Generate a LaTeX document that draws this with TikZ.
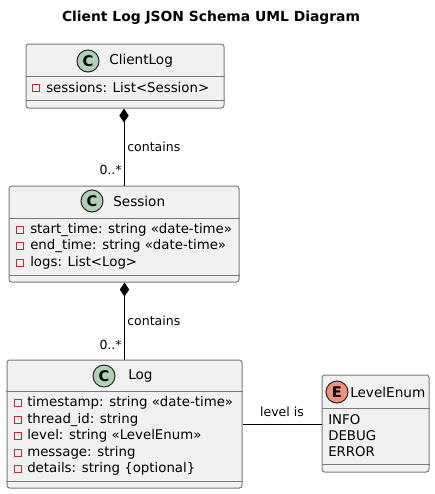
\documentclass[tikz,border=0pt]{standalone}
\usepackage{fontspec}
\setmainfont{DejaVu Sans}
\usepackage{xcolor}
\usepackage{tikz}
\usetikzlibrary{arrows.meta, positioning, calc}

\definecolor{boxfill}{HTML}{F1F1F1}
\definecolor{boxline}{HTML}{7A7A7A}
\definecolor{classgreen}{HTML}{ADD1B2}
\definecolor{enumred}{HTML}{EB937F}
\definecolor{privred}{HTML}{C82930}

\begin{document}
\begin{tikzpicture}[
    x=0.75pt, y=-0.75pt,
    box/.style={draw=boxline,fill=boxfill,line width=0.75pt,rounded corners=2pt,inner sep=0pt},
    divider/.style={draw=boxline,line width=0.75pt},
    badge/.style={circle,draw=black!85,line width=0.75pt,minimum size=16.5pt,inner sep=0pt,font=\fontsize{11}{12}\selectfont\bfseries},
    title/.style={anchor=west,inner sep=0pt,font=\fontsize{10.2}{12}\selectfont},
    attr/.style={anchor=west,inner sep=0pt,font=\fontsize{10}{12}\selectfont},
    priv/.style={draw=privred,line width=0.6pt,minimum size=5pt,inner sep=0pt},
    lbl/.style={inner sep=0pt,font=\fontsize{9.4}{11}\selectfont},
    comp/.style={line width=0.75pt,{Diamond[length=10.5pt,width=7pt]}-}
]
\useasboundingbox (0,0) rectangle (435,494);

% Title
\node[inner sep=0pt,font=\fontsize{10.4}{12}\selectfont\bfseries] (heading) at (211,18) {Client Log JSON Schema UML Diagram};

% Boxes
\node[box,minimum width=148.5pt,minimum height=48pt] (clientlog) at (125,76) {};
\node[box,minimum width=172.5pt,minimum height=72pt] (session) at (124,234) {};
\node[box,minimum width=176.25pt,minimum height=96pt] (log) at (124.5,424) {};
\node[box,minimum width=80.25pt,minimum height=72.75pt] (levelenum) at (375.5,423.5) {};

% Dividers
\draw[divider] (clientlog.west |- 0,76) -- (clientlog.east |- 0,76);
\draw[divider] (clientlog.west |- 0,100) -- (clientlog.east |- 0,100);
\draw[divider] (session.west |- 0,218) -- (session.east |- 0,218);
\draw[divider] (session.west |- 0,275) -- (session.east |- 0,275);
\draw[divider] (log.west |- 0,391) -- (log.east |- 0,391);
\draw[divider] (log.west |- 0,481) -- (log.east |- 0,481);
\draw[divider] (levelenum.west |- 0,408) -- (levelenum.east |- 0,408);
\draw[divider] (levelenum.west |- 0,464) -- (levelenum.east |- 0,464);

% Headers
\node[badge,fill=classgreen] (clientlogC) at (88,61) {C};
\node[title] (clientlogname) at (109,61) {ClientLog};
\node[badge,fill=classgreen] (sessionC) at (92,201) {C};
\node[title] (sessionname) at (113,201) {Session};
\node[badge,fill=classgreen] (logC) at (104,376) {C};
\node[title] (logname) at (128,376) {Log};
\node[badge,fill=enumred] (levelenumE) at (337,392) {E};
\node[title] (levelenumname) at (350,392) {LevelEnum};

% Attributes
\node[priv] (m1) at (36,88) {};
\node[attr] (a1) at (46,88) {sessions: List<Session>};

\node[priv] (m2) at (20,230) {};
\node[attr] (a2) at (30,230) {start\_time: string «date-time»};
\node[priv] (m3) at (20,246) {};
\node[attr] (a3) at (30,246) {end\_time: string «date-time»};
\node[priv] (m4) at (20,263) {};
\node[attr] (a4) at (30,263) {logs: List<Log>};

\node[priv] (m5) at (18,403) {};
\node[attr] (a5) at (27,403) {timestamp: string «date-time»};
\node[priv] (m6) at (18,420) {};
\node[attr] (a6) at (27,420) {thread\_id: string};
\node[priv] (m7) at (18,436) {};
\node[attr] (a7) at (27,436) {level: string «LevelEnum»};
\node[priv] (m8) at (18,453) {};
\node[attr] (a8) at (27,453) {message: string};
\node[priv] (m9) at (18,469) {};
\node[attr] (a9) at (27,469) {details: string \{optional\}};

\node[attr] (e1) at (328,420) {INFO};
\node[attr] (e2) at (328,436) {DEBUG};
\node[attr] (e3) at (328,452) {ERROR};

% Connectors
\draw[comp] (clientlog.south -| session.north) -- (session.north);
\node[lbl,anchor=west] (contains1) at (127,147) {contains};
\node[lbl,anchor=east] (mult1) at (122,170) {0..*};

\draw[comp] (session.south -| log.north) -- (log.north);
\node[lbl,anchor=west] (contains2) at (127,321) {contains};
\node[lbl,anchor=east] (mult2) at (122,345) {0..*};

\draw[line width=0.75pt] (log.east) -- (levelenum.west |- log.east);
\node[lbl] (levelis) at (282,412) {level is};

\end{tikzpicture}
\end{document}
